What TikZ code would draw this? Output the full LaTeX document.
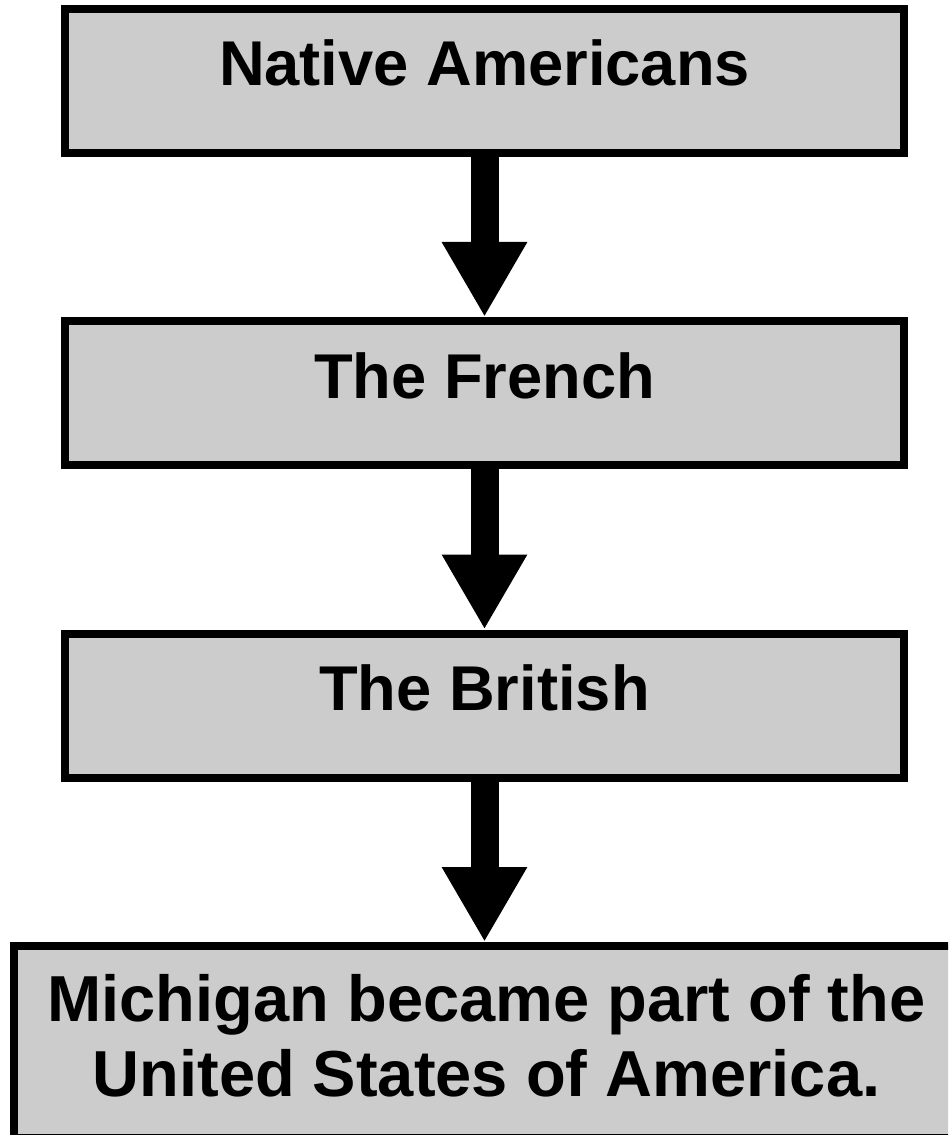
\documentclass[tikz,border=0pt]{standalone}
\usepackage{fontspec}
\setmainfont{Liberation Sans}
\usetikzlibrary{arrows.meta}

\begin{document}
\begin{tikzpicture}[
    era/.style={draw, line width=0.16cm, fill=black!20,
      minimum width=16.78cm, minimum height=2.88cm,
      text height=0.88cm, text depth=0.68cm,
      font=\bfseries\fontsize{36}{44.2}\selectfont},
    lastera/.style={era, minimum width=18.9cm, minimum height=3.84cm,
      text height=2.46cm, text depth=0.28cm, align=center,
      font=\bfseries\fontsize{37}{42.5}\selectfont},
    leadsto/.style={line width=0.56cm, -{Triangle[length=1.5cm,width=1.6cm]}}]
  \useasboundingbox (0,0) rectangle (18.96,-22.7);
  \clip (0,0) rectangle (18.96,-22.7);
  \node[era] (natives) at (9.69,-1.62) {Native Americans};
  \node[era] (french) at (9.69,-7.86) {The French};
  \node[era] (british) at (9.69,-14.11) {The British};
  \node[lastera] (usa) at (9.73,-20.84) {Michigan became part of the\\United States of America.};
  \draw[leadsto] (natives) -- (french);
  \draw[leadsto] (french) -- (british);
  \draw[leadsto] (british) -- (british |- usa.north);
\end{tikzpicture}
\end{document}
